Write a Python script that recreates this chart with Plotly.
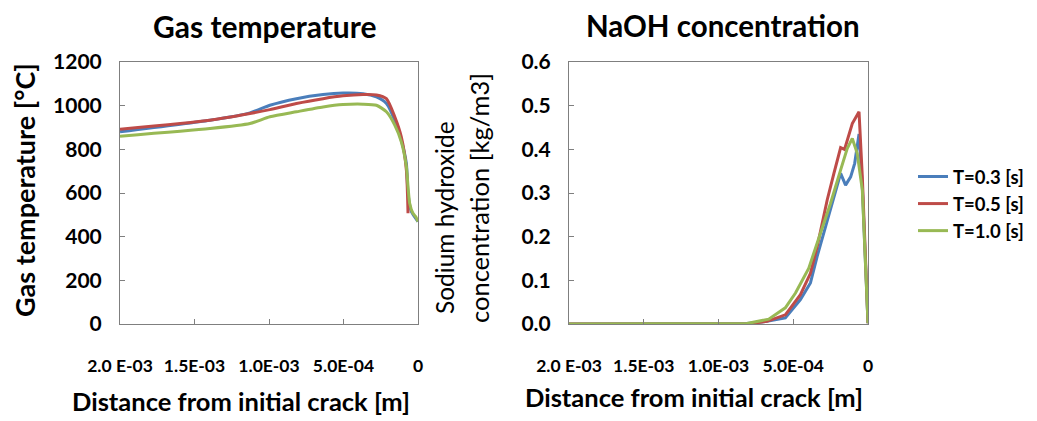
import plotly.graph_objects as go

# ---- Data ----
series_names = ["T=0.3 [s]", "T=0.5 [s]", "T=1.0 [s]"]
colors = ["#4A7EBB", "#BE4B48", "#98B954"]

# Gas temperature (x in m, y in degC)
gt_x_blue = [2.0e-3, 1.397e-3, 1.128e-3, 0.994e-3, 0.816e-3, 0.637e-3, 0.503e-3, 0.369e-3, 0.279e-3, 0.212e-3, 0.156e-3, 0.112e-3, 0.078e-3, 0.067e-3, 0.045e-3, 0.0]
gt_y_blue = [880, 933, 967, 1002, 1032, 1051, 1058, 1055, 1040, 1010, 933, 842, 735, 598, 515, 469]
gt_x_red = [2.0e-3, 1.397e-3, 1.128e-3, 0.994e-3, 0.816e-3, 0.637e-3, 0.503e-3, 0.369e-3, 0.279e-3, 0.212e-3, 0.156e-3, 0.112e-3, 0.078e-3, 0.067e-3]
gt_y_red = [892, 933, 964, 982, 1010, 1032, 1045, 1051, 1049, 1032, 949, 857, 705, 507]
gt_x_green = [2.0e-3, 1.397e-3, 1.128e-3, 0.994e-3, 0.816e-3, 0.637e-3, 0.503e-3, 0.369e-3, 0.279e-3, 0.212e-3, 0.156e-3, 0.112e-3, 0.078e-3, 0.067e-3, 0.056e-3, 0.034e-3, 0.016e-3, 0.0]
gt_y_green = [860, 895, 918, 949, 972, 994, 1005, 1007, 1002, 972, 911, 834, 720, 629, 553, 507, 492, 469]

# NaOH concentration (x in m, y in kg/m3)
na_x_blue = [2.0e-3, 0.944e-3, 0.81e-3, 0.676e-3, 0.553e-3, 0.452e-3, 0.385e-3, 0.34e-3, 0.273e-3, 0.217e-3, 0.183e-3, 0.15e-3, 0.116e-3, 0.089e-3, 0.06e-3, 0.038e-3, 0.0]
na_y_blue = [0.0, 0.0, 0.001, 0.006, 0.014, 0.056, 0.094, 0.155, 0.238, 0.307, 0.345, 0.318, 0.337, 0.368, 0.435, 0.314, 0.002]
na_x_red = [2.0e-3, 0.944e-3, 0.81e-3, 0.676e-3, 0.553e-3, 0.452e-3, 0.385e-3, 0.34e-3, 0.273e-3, 0.228e-3, 0.183e-3, 0.157e-3, 0.105e-3, 0.06e-3, 0.038e-3, 0.0]
na_y_red = [0.0, 0.0, 0.0, 0.006, 0.021, 0.067, 0.116, 0.177, 0.284, 0.345, 0.404, 0.40, 0.459, 0.486, 0.337, 0.002]
na_x_green = [2.0e-3, 0.98e-3, 0.81e-3, 0.664e-3, 0.553e-3, 0.485e-3, 0.396e-3, 0.318e-3, 0.251e-3, 0.183e-3, 0.139e-3, 0.105e-3, 0.072e-3, 0.038e-3, 0.0]
na_y_green = [0.0, 0.0, 0.001, 0.011, 0.037, 0.071, 0.128, 0.208, 0.276, 0.353, 0.402, 0.425, 0.391, 0.307, 0.002]

gt_ticks = [0, 200, 400, 600, 800, 1000, 1200]
gt_ticktext = ["0", "200", "400", "600", "800", "1000", "1200"]
na_ticks = [0.0, 0.1, 0.2, 0.3, 0.4, 0.5, 0.6]
na_ticktext = ["0.0", "0.1", "0.2", "0.3", "0.4", "0.5", "0.6"]
x_ticks = [2.0e-3, 1.5e-3, 1.0e-3, 5.0e-4, 0.0]
x_ticktext = ["2.0 E-03", "1.5E-03", "1.0E-03", "5.0E-04", "0"]

FONT = "Lato"
W, H = 1037, 421

fig = go.Figure()

gt_data = [(gt_x_blue, gt_y_blue), (gt_x_red, gt_y_red), (gt_x_green, gt_y_green)]
na_data = [(na_x_blue, na_y_blue), (na_x_red, na_y_red), (na_x_green, na_y_green)]

for i, (xs, ys) in enumerate(gt_data):
    fig.add_trace(go.Scatter(x=xs, y=ys, mode="lines", name=series_names[i],
                             line=dict(color=colors[i], width=3, shape="spline", smoothing=0.6),
                             xaxis="x", yaxis="y", showlegend=False))
for i, (xs, ys) in enumerate(na_data):
    fig.add_trace(go.Scatter(x=xs, y=ys, mode="lines", name=series_names[i],
                             line=dict(color=colors[i], width=3),
                             xaxis="x2", yaxis="y2", showlegend=True))

ydom = [(H - 324) / H, (H - 62) / H]
axis_common = dict(showline=True, linecolor="#7f7f7f", linewidth=1, mirror=True, automargin=False,
                   ticks="inside", ticklen=5, tickcolor="#7f7f7f", showgrid=False, zeroline=False)
xtickfont = dict(size=17.5, family=FONT, weight="bold")
ytickfont = dict(size=21, family=FONT, weight="bold")

fig.update_layout(
    width=W, height=H,
    margin=dict(l=0, r=0, t=0, b=0, autoexpand=False),
    paper_bgcolor="white", plot_bgcolor="white",
    font=dict(family=FONT, color="black"),
    xaxis=dict(domain=[120 / W, 418 / W], range=[2.0e-3, 0.0], tickvals=x_ticks, ticktext=x_ticktext,
               tickfont=xtickfont, ticklabelstandoff=26, anchor="y", **axis_common),
    yaxis=dict(domain=ydom, range=[0, 1200], tickvals=gt_ticks, ticktext=gt_ticktext,
               tickfont=ytickfont, ticklabelstandoff=13, anchor="x", **axis_common),
    xaxis2=dict(domain=[569 / W, 868 / W], range=[2.0e-3, 0.0], tickvals=x_ticks, ticktext=x_ticktext,
                tickfont=xtickfont, ticklabelstandoff=26, anchor="y2", **axis_common),
    yaxis2=dict(domain=ydom, range=[0, 0.6], tickvals=na_ticks, ticktext=na_ticktext,
                tickfont=ytickfont, ticklabelstandoff=13, anchor="x2", **axis_common),
    legend=dict(x=913 / W, y=1 - 158 / H, xanchor="left", yanchor="top",
                font=dict(size=18.5, family=FONT, weight="bold"), bgcolor="rgba(0,0,0,0)"),
)

def ann(text, x, y, size, bold=True, angle=0):
    fig.add_annotation(text=text, x=x / W, y=1 - y / H, xref="paper", yref="paper",
                       showarrow=False, textangle=angle, xanchor="center", yanchor="middle",
                       font=dict(size=size, family=FONT, color="black", weight="bold" if bold else "normal"))

ann("Gas temperature", 265, 26, 30)
ann("NaOH concentration", 723, 26, 29.5)
ann("Distance from initial crack [m]", 241, 401, 25.5)
ann("Distance from initial crack [m]", 694, 397, 25.5)
ann("Gas temperature [°C]", 25, 190, 27, angle=-90)
ann("Sodium hydroxide", 445, 218, 24.5, bold=False, angle=-90)
ann("concentration [kg/m3]", 479, 198, 25.5, bold=False, angle=-90)

fig.write_html("out.html")
